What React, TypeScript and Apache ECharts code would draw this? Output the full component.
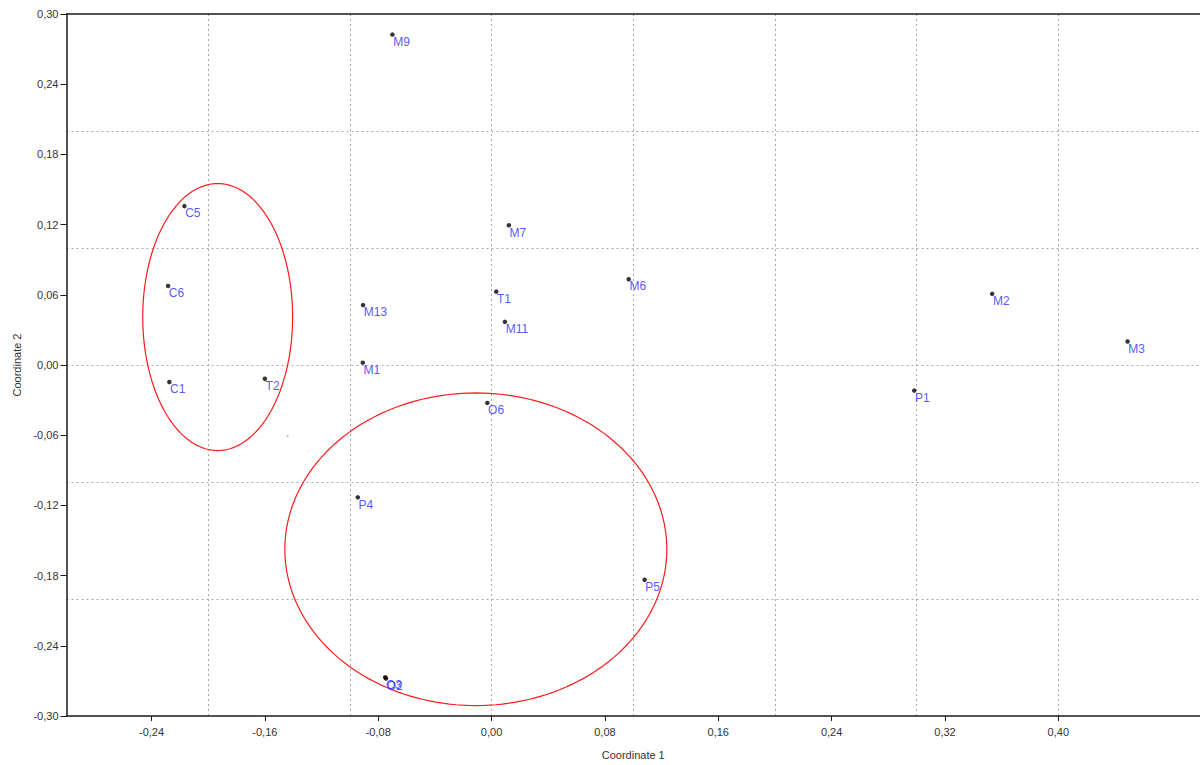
import React, { useEffect, useRef } from "react";
import * as echarts from "echarts";

// Sample names and coordinates
const names = ["M9", "C5", "M7", "C6", "T1", "M6", "M13", "M11", "M2", "M3", "M1", "C1", "T2", "P1", "O6", "P4", "P5", "O3", "O2"];
const coord1 = [-0.070, -0.2168, 0.0122, -0.2283, 0.0033, 0.0968, -0.0907, 0.0094, 0.3533, 0.4489, -0.0909, -0.2274, -0.160, 0.2983, -0.003, -0.0944, 0.108, -0.0751, -0.0745];
const coord2 = [0.2824, 0.1358, 0.1194, 0.0676, 0.0627, 0.0733, 0.0512, 0.0369, 0.0608, 0.0201, 0.002, -0.0145, -0.0117, -0.0219, -0.0324, -0.1131, -0.1836, -0.2669, -0.268];

// Ellipses drawn on the plot: centre x, centre y, radius x, radius y (data units)
const ellipseCx = [-0.1933, -0.0111];
const ellipseCy = [0.041, -0.1575];
const ellipseRx = [0.0529, 0.1348];
const ellipseRy = [0.1141, 0.1336];

// small stray red mark
const strayMark = [[-0.1438, -0.061]];

// Axis tick labels
const xTicks = [-0.24, -0.16, -0.08, 0, 0.08, 0.16, 0.24, 0.32, 0.40];

const fmt = (v: number) => {
  const x = Math.abs(v) < 1e-9 ? 0 : v;
  return x.toFixed(2).replace(".", ",");
};

const FONT = "Liberation Sans, Arial, sans-serif";

export default function App() {
  const ref = useRef<HTMLDivElement>(null);
  useEffect(() => {
    document.body.style.margin = "0";
    const chart = echarts.init(ref.current!, null, { renderer: "svg" });
    const points = names.map((n, i) => [coord1[i], coord2[i], n]);
    const ellipses = ellipseCx.map((cx, i) => [cx, ellipseCy[i], ellipseRx[i], ellipseRy[i]]);
    const dotted = { color: "#a8a8a8", width: 1, type: [2, 3] as any };
    chart.setOption({
      animation: false,
      backgroundColor: "#ffffff",
      grid: { left: 66.5, top: 14, width: 1135, bottom: 48, containLabel: false },
      xAxis: [
        {
          type: "value",
          min: -0.3,
          max: 0.5,
          name: "Coordinate 1",
          nameLocation: "middle",
          nameGap: 33,
          nameTextStyle: { fontFamily: FONT, fontSize: 11, color: "#333" },
          axisLine: { show: true, onZero: false, lineStyle: { color: "#1a1a1a", width: 1.5 } },
          axisTick: { show: true, length: 5, customValues: xTicks, lineStyle: { color: "#1a1a1a" } },
          axisLabel: { customValues: xTicks, formatter: fmt, fontFamily: FONT, fontSize: 11, color: "#333", margin: 10 },
          splitLine: { show: false },
        },
        {
          type: "value",
          position: "top",
          min: -0.3,
          max: 0.5,
          interval: 0.1,
          axisLine: { show: true, onZero: false, lineStyle: { color: "#1a1a1a", width: 1.5 } },
          axisTick: { show: false },
          axisLabel: { show: false },
          splitLine: { show: true, showMinLine: false, showMaxLine: false, lineStyle: dotted },
        },
      ],
      yAxis: [
        {
          type: "value",
          min: -0.3,
          max: 0.3,
          interval: 0.06,
          name: "Coordinate 2",
          nameLocation: "middle",
          nameGap: 44,
          nameTextStyle: { fontFamily: FONT, fontSize: 11, color: "#333" },
          axisLine: { show: true, onZero: false, lineStyle: { color: "#1a1a1a", width: 1.5 } },
          axisTick: { show: true, length: 6, lineStyle: { color: "#1a1a1a" } },
          axisLabel: { formatter: fmt, fontFamily: FONT, fontSize: 11, color: "#333", margin: 8 },
          splitLine: { show: false },
        },
        {
          type: "value",
          position: "right",
          min: -0.3,
          max: 0.3,
          interval: 0.1,
          axisLine: { show: false },
          axisTick: { show: false },
          axisLabel: { show: false },
          splitLine: { show: true, showMinLine: false, showMaxLine: false, lineStyle: dotted },
        },
      ],
      series: [
        {
          type: "custom",
          xAxisIndex: 0,
          yAxisIndex: 0,
          data: ellipses,
          encode: { x: 0, y: 1 },
          z: 2,
          renderItem: (params: any, api: any) => {
            const cx = api.value(0), cy = api.value(1), rx = api.value(2), ry = api.value(3);
            const pts: number[][] = [];
            for (let k = 0; k <= 180; k++) {
              const t = (k / 180) * Math.PI * 2;
              pts.push(api.coord([cx + rx * Math.cos(t), cy + ry * Math.sin(t)]));
            }
            return {
              type: "polyline",
              shape: { points: pts },
              style: { fill: "none", stroke: "#ff1a1a", lineWidth: 1.2 },
            };
          },
        },
        {
          type: "scatter",
          xAxisIndex: 0,
          yAxisIndex: 0,
          data: strayMark,
          symbol: "rect",
          symbolSize: [1, 2],
          itemStyle: { color: "#ff3030" },
          z: 2,
        },
        {
          type: "scatter",
          xAxisIndex: 0,
          yAxisIndex: 0,
          data: points,
          symbolSize: 4.5,
          itemStyle: { color: "#000000" },
          z: 5,
          label: {
            show: true,
            position: [3, 3.5],
            align: "left",
            verticalAlign: "top",
            formatter: (p: any) => p.data[2],
            fontFamily: FONT,
            fontSize: 12,
            color: "#2a2aff",
          },
        },
      ],
    });
    return () => chart.dispose();
  }, []);
  return <div ref={ref} style={{ width: 1200, height: 765 }} />;
}
